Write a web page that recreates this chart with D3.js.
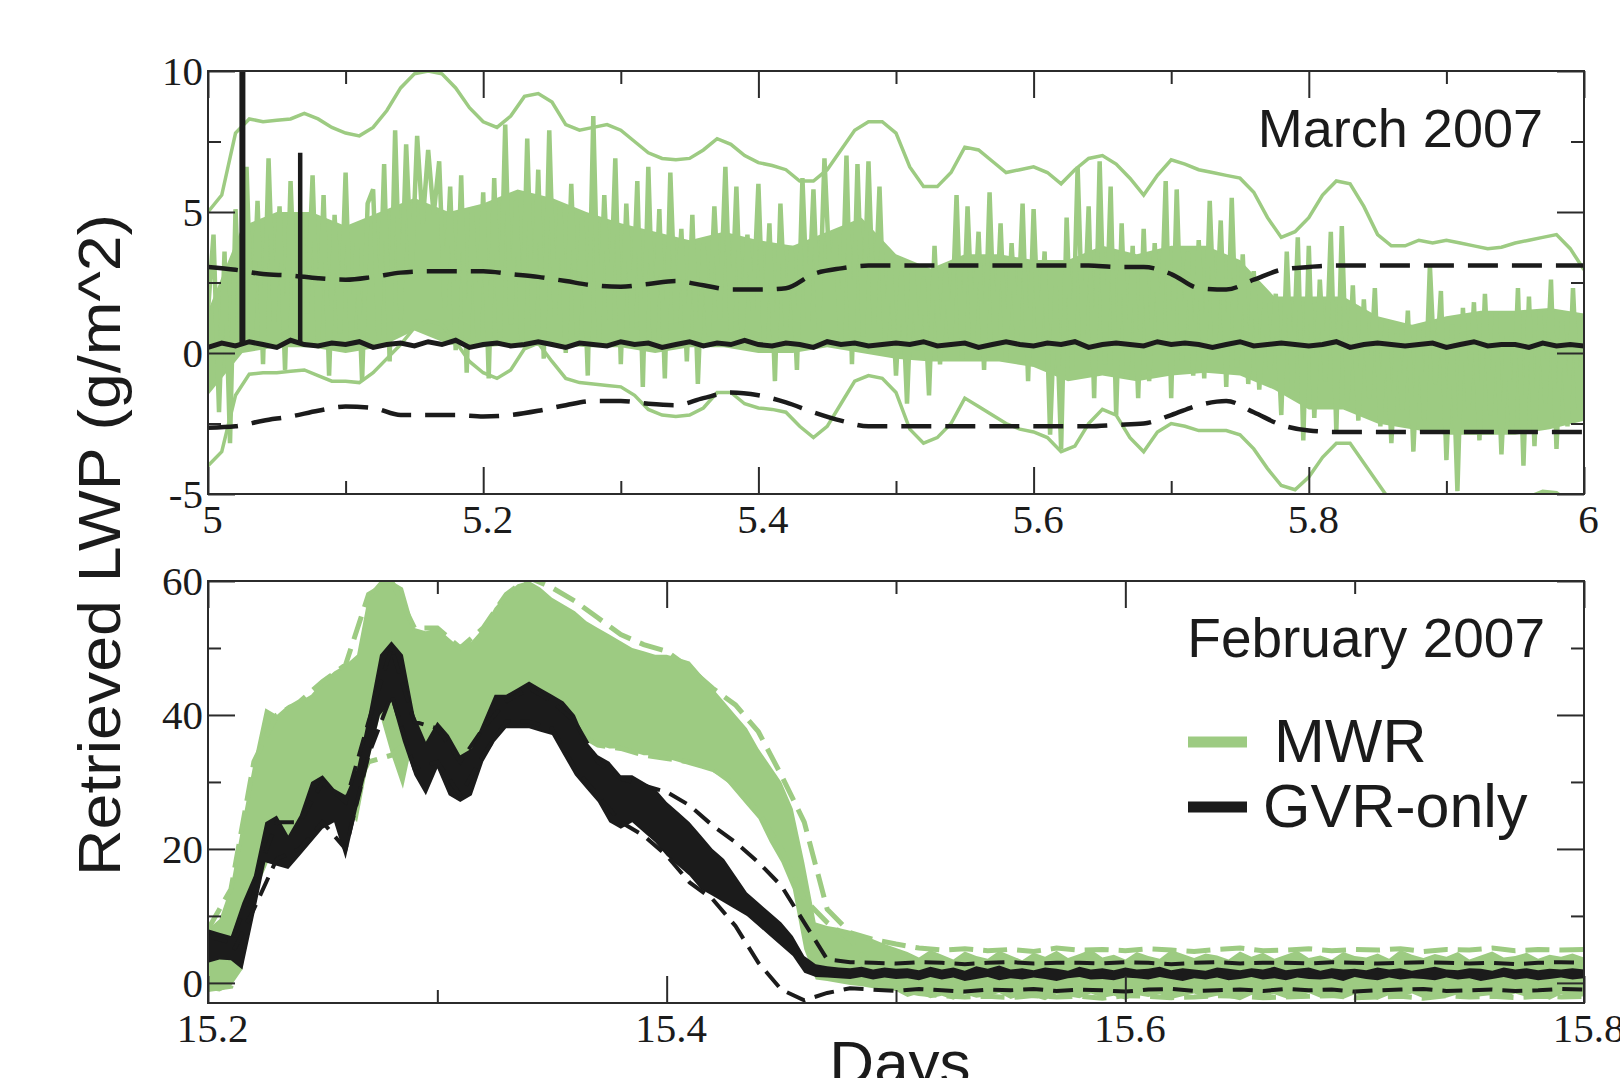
<!DOCTYPE html>
<html>
<head>
<meta charset="utf-8">
<script src="https://d3js.org/d3.v7.min.js"></script>
<style>
  body { margin: 0; background: #fff; }
  svg { display: block; }
</style>
</head>
<body>
<script>
// ---------- data ----------
// March 2007 panel: days 5 .. 6, LWP in g/m^2
const marchRange = [5, 6];

// MWR retrieval, raw noisy trace (equal steps over the day)
const marchMwr = [
  1.5, 4.2, -2.1, 3.6, -3.2, 5.1, 0.2, 6.6, 0.6, 5.4,
  -0.4, 6.9, 1.1, 5.2, -0.6, 6.1, 0.9, 4.7, 1.4, 6.3,
  0.3, 5.6, -0.8, 4.9, 0.7, 6.4, 0.2, 3.9, -1.0, 5.3,
  5.8, 0.4, 6.7, -0.3, 7.9, 1.2, 7.4, 2.8, 7.7, 4.6,
  7.2, 4.9, 6.8, 1.6, 5.9, 0.1, 6.3, -0.7, 5.0, 0.5,
  5.7, -0.9, 6.2, 0.4, 8.1, 1.0, 5.4, 0.2, 7.6, 0.8,
  6.5, -0.2, 7.9, 1.3, 5.2, 0.0, 6.0, 0.6, 4.8, -0.8,
  8.4, 0.5, 5.6, 1.1, 6.9, -0.4, 5.3, 0.9, 6.1, -1.2,
  6.6, 0.2, 5.1, -0.9, 6.4, 1.0, 4.4, -0.3, 4.9, -1.1,
  3.9, 0.6, 5.2, 1.2, 6.6, 0.8, 5.9, 0.3, 4.2, 1.5,
  6.0, 0.4, 4.6, -1.0, 5.3, 0.9, 3.8, -0.6, 6.2, 1.1,
  5.8, 0.8, 6.9, 2.6, 4.1, 0.2, 7.0, -0.4, 6.7, 0.6,
  6.8, 1.0, 5.9, 0.4, 3.2, -0.8, 2.9, -1.8, 3.1, 0.1,
  2.7, -1.5, 3.8, -0.4, 2.9, 0.3, 5.6, -0.2, 5.2, 0.5,
  4.3, -0.6, 5.7, 0.1, 4.6, -0.3, 3.9, 0.4, 5.3, -1.0,
  5.1, 0.2, 3.6, -2.9, 2.4, -3.4, 4.8, -0.7, 6.6, 0.3,
  5.2, -1.6, 6.8, -0.4, 5.9, -2.2, 4.6, -0.9, 3.8, -1.6,
  4.4, -1.0, 3.9, 0.2, 6.1, -1.6, 5.8, -0.3, 3.6, -0.8,
  4.0, -0.9, 5.4, 0.3, 4.7, -1.2, 5.5, -0.5, 3.5, -1.1,
  2.9, -1.3, 1.8, -0.6, 2.1, -2.2, 3.6, -1.4, 4.1, -3.1,
  3.8, -2.3, 2.6, -1.0, 4.3, -2.8, 4.5, -1.7, 2.4, -2.4,
  1.9, -1.6, 2.3, -2.6, 1.2, -3.2, 0.7, -2.0, 1.5, -3.5,
  0.9, -2.4, 3.1, -1.1, 2.2, -3.8, 1.0, -4.9, 1.6, -2.0,
  1.8, -3.1, 2.1, -2.2, 1.4, -3.6, 0.6, -2.7, 2.3, -4.0,
  2.0, -3.3, 1.5, -1.8, 2.6, -3.4, 1.2, -2.6, 2.3, -2.0,
  0.8
];
// dense part of the MWR trace (where it is solid green)
const marchMwrCoreHi = [1.5, 4.5, 5.0, 5.0, 4.5, 5.0, 5.5, 5.0, 5.3, 5.8, 5.5, 5.0, 4.6, 4.3, 4.0, 4.3, 4.0, 3.8, 4.3, 4.8,
  3.5, 3.0, 3.5, 3.5, 3.3, 3.3, 3.8, 3.5, 3.8, 3.8, 3.3, 2.0, 2.0, 2.0, 1.3, 1.0, 1.3, 1.5, 1.5, 1.6, 1.4];
const marchMwrCoreLo = [-1.5, 0.0, 0.2, 0.2, 0.0, 0.2, 0.8, 0.3, 0.2, 0.3, 0.3, 0.2, 0.2, 0.0, 0.2, 0.2, 0.0, 0.0, 0.2, 0.0,
  -0.2, -0.3, -0.3, -0.3, -0.5, -1.0, -0.8, -1.0, -0.8, -0.7, -0.8, -1.3, -2.0, -2.0, -2.5, -2.7, -2.9, -2.9, -2.9, -2.7, -2.4];
// MWR uncertainty envelope (solid green lines)
const marchMwrUpper = [
  5.0, 5.6, 7.8, 8.3, 8.2, 8.25, 8.3, 8.5, 8.3, 8.0,
  7.8, 7.7, 8.0, 8.6, 9.4, 9.9, 10.0, 9.9, 9.4, 8.7,
  8.2, 8.0, 8.4, 9.1, 9.2, 8.9, 8.1, 7.9, 8.0, 8.1,
  7.9, 7.5, 7.1, 6.9, 6.85, 6.9, 7.2, 7.6, 7.4, 7.0,
  6.75, 6.65, 6.5, 6.1, 6.1, 6.5, 7.2, 7.9, 8.2, 8.2,
  7.8, 6.6, 5.9, 5.9, 6.4, 7.3, 7.2, 6.8, 6.4, 6.5,
  6.6, 6.4, 6.0, 6.5, 6.9, 7.0, 6.7, 6.2, 5.6, 6.3,
  6.85, 6.7, 6.5, 6.4, 6.3, 6.2, 5.7, 4.8, 4.1, 4.3,
  4.8, 5.6, 6.1, 6.0, 5.2, 4.2, 3.8, 3.8, 4.0, 3.9,
  4.0, 3.9, 3.8, 3.7, 3.75, 3.9, 4.0, 4.1, 4.2, 3.7,
  2.95
];
const marchMwrLower = [
  -4.0, -3.5, -1.5, -0.75, -0.7, -0.7, -0.65, -0.6, -0.8, -1.0,
  -1.0, -1.05, -0.7, -0.2, 0.3, 0.9, 1.15, 1.0, 0.4, -0.3,
  -0.7, -0.9, -0.6, 0.15, 0.35, -0.3, -0.9, -1.05, -1.1, -1.15,
  -1.2, -1.5, -2.0, -2.2, -2.25, -2.2, -1.95, -1.4, -1.4, -1.8,
  -1.95, -2.0, -2.1, -2.6, -3.0, -2.6, -1.8, -1.0, -0.8, -0.9,
  -1.4, -2.7, -3.2, -3.0, -2.5, -1.6, -1.9, -2.2, -2.5, -2.7,
  -2.8, -3.0, -3.5, -3.3, -2.5, -2.0, -2.2, -3.0, -3.5, -2.8,
  -2.5, -2.6, -2.75, -2.75, -2.75, -2.9, -3.4, -4.1, -4.7, -4.85,
  -4.4, -3.7, -3.2, -3.2, -3.9, -4.6, -5.3, -5.5, -5.1, -5.2,
  -5.4, -5.5, -5.4, -5.3, -5.5, -5.3, -5.1, -4.9, -4.95, -5.3,
  -5.6
];
// GVR-only retrieval (black) and its uncertainty (black dashed)
const marchGvr = [
  0.2, 0.35, 0.25, 0.4, 0.3, 0.2, 0.45, 0.3, 0.25, 0.35,
  0.3, 0.4, 0.2, 0.3, 0.35, 0.25, 0.4, 0.3, 0.45, 0.2,
  0.3, 0.35, 0.25, 0.3, 0.4, 0.3, 0.2, 0.35, 0.3, 0.25,
  0.4, 0.3, 0.35, 0.2, 0.3, 0.4, 0.25, 0.35, 0.3, 0.45,
  0.3, 0.25, 0.35, 0.3, 0.2, 0.4, 0.3, 0.35, 0.25, 0.3,
  0.35, 0.3, 0.4, 0.25, 0.3, 0.35, 0.2, 0.3, 0.4, 0.3,
  0.25, 0.35, 0.3, 0.4, 0.2, 0.3, 0.35, 0.3, 0.25, 0.4,
  0.3, 0.35, 0.3, 0.2, 0.3, 0.4, 0.25, 0.3, 0.35, 0.3,
  0.25, 0.3, 0.4, 0.2, 0.3, 0.35, 0.3, 0.25, 0.3, 0.35,
  0.2, 0.3, 0.4, 0.25, 0.3, 0.3, 0.2, 0.35, 0.25, 0.3,
  0.25
];
const marchSpikeDays = [5.025, 5.067];
const marchSpikeTops = [10, 7.1];
const marchGvrUpper = [
  3.05, 2.95, 2.8, 2.75, 2.65, 2.6, 2.7, 2.85, 2.9, 2.9,
  2.9, 2.8, 2.7, 2.55, 2.4, 2.35, 2.45, 2.55, 2.4, 2.25,
  2.25, 2.3, 2.8, 3.0, 3.1, 3.1, 3.1, 3.1, 3.1, 3.1,
  3.1, 3.1, 3.1, 3.05, 3.05, 2.8, 2.3, 2.25, 2.6, 2.95,
  3.05, 3.1, 3.1, 3.1, 3.1, 3.1, 3.1, 3.1, 3.1, 3.1,
  3.1
];
const marchGvrLower = [
  -2.65, -2.6, -2.4, -2.25, -2.05, -1.9, -1.95, -2.2, -2.2, -2.2,
  -2.25, -2.2, -2.05, -1.85, -1.7, -1.7, -1.8, -1.85, -1.6, -1.4,
  -1.5, -1.75, -2.1, -2.4, -2.6, -2.6, -2.6, -2.6, -2.6, -2.6,
  -2.6, -2.6, -2.6, -2.55, -2.5, -2.2, -1.85, -1.7, -2.1, -2.55,
  -2.75, -2.8, -2.8, -2.8, -2.8, -2.8, -2.8, -2.8, -2.8, -2.8,
  -2.8
];

// February 2007 panel: days 15.2 .. 15.8
const febRange = [15.2, 15.8];
// spread of the noisy MWR trace (top / bottom of the green band)
const febMwrHi = [
  8, 9.5, 14.5, 24, 33, 41, 40, 41.5, 42, 43,
  45, 46.5, 47.5, 49, 58, 60, 60, 59, 53, 52.5,
  53, 51.5, 50, 51, 53, 56, 58, 59.5, 60, 59,
  57.5, 56.5, 55.5, 54, 53, 52, 51, 50, 49.5, 49,
  49, 48.5, 48, 46, 44, 42, 40, 38, 35, 32.5,
  30, 26, 18, 9, 8.5, 8.2, 7.8, 7, 6.5, 5.8,
  5.2,
  4.6, 3.8, 4.9, 4.2, 3.5, 4.7, 4.0, 3.6, 4.8, 4.1,
  3.4, 4.5, 3.9, 4.8, 3.7, 4.3, 5.0, 3.8, 4.2, 3.5,
  4.6, 4.0, 3.6, 4.9, 4.3, 3.7, 4.4, 4.1, 3.5, 4.7,
  3.9, 4.5, 3.6, 4.2, 4.8, 3.7, 4.1, 3.5, 4.6, 4.0,
  3.8, 4.4, 3.6, 4.9, 4.2, 3.7, 4.3, 3.9, 4.6, 3.5,
  4.1, 4.7, 3.8, 4.0, 4.5, 3.6, 4.2, 3.9, 4.4, 3.8
];
const febMwrLo = [
  -1, -1.3, -0.5, 2, 14, 22, 22, 21, 22, 25,
  27, 27, 26, 24, 33, 40, 34, 29, 37, 33,
  35, 33, 31, 31, 36, 40, 42, 43, 42, 41,
  40, 38.5, 37.5, 36.5, 35.5, 35, 35, 34.5, 34, 34,
  33.5, 33, 32.5, 32, 31.5, 30.5, 28.5, 26.5, 24.5, 21,
  18, 14, 5, 0.5, 0.3, 0, -0.3, -0.5, -0.8, -1,
  -1.2,
  -2.1, -1.6, -2.3, -1.9, -2.5, -1.7, -2.2, -2.0, -1.5, -2.4,
  -1.8, -2.1, -2.6, -1.7, -2.0, -2.3, -1.6, -2.2, -1.9, -2.5,
  -1.8, -2.1, -1.7, -2.4, -2.0, -1.6, -2.3, -1.9, -2.2, -2.6,
  -1.8, -2.0, -1.7, -2.3, -2.1, -1.5, -2.2, -1.9, -2.4, -1.7,
  -2.0, -2.5, -1.8, -2.1, -1.6, -2.3, -1.9, -2.2, -1.7, -2.4,
  -2.0, -1.8, -2.3, -1.6, -2.1, -1.9, -2.5, -1.7, -2.2, -2.0
];
// spread of the noisy GVR-only trace (black band)
const febGvrHi = [
  8, 7.5, 7, 12, 16, 24, 25, 22, 25, 30,
  31, 29, 28, 32, 40, 49, 51, 49, 40, 36,
  39, 37, 34, 35, 39, 43, 43, 44, 45, 44,
  43, 42, 40, 36, 34, 33, 31, 31, 30, 29,
  27, 25.5, 24, 22, 20, 18.5, 16, 13.5, 12, 10.5,
  9, 7, 4, 2.8, 2.5, 2.3, 2.2, 2.4, 2.0, 2.3,
  2.1,
  2.2, 1.9, 2.4, 2.0, 2.3, 1.8, 2.5, 2.1, 2.6, 2.0,
  2.2, 1.9, 2.3, 2.1, 1.8, 2.4, 2.0, 2.2, 1.9, 2.3,
  2.0, 2.1, 2.4, 1.9, 2.2, 2.0, 1.8, 2.3, 2.1, 1.9,
  2.2, 2.0, 2.4, 1.9, 2.1, 2.3, 1.8, 2.2, 2.0, 2.1,
  1.9, 2.3, 2.0, 2.2, 1.8, 2.1, 2.4, 2.0, 1.9, 2.2,
  2.1, 1.8, 2.3, 2.0, 2.2, 1.9, 2.1, 2.0, 2.2, 2.0
];
const febGvrLo = [
  3, 3.5, 3.4, 2, 10, 18, 17.5, 17, 19, 21,
  23, 24, 18.5, 26, 33, 40, 42, 36, 31, 28,
  32, 28, 27, 28, 33, 36, 38, 38, 38, 37.5,
  37, 34, 31, 29, 27, 24, 23, 24, 22.5, 21,
  19, 17.5, 16, 14, 13, 12, 11, 10, 8.5, 7,
  5.5, 4, 1.5, 0.9, 0.8, 0.7, 0.6, 0.9, 0.5, 0.8,
  0.6,
  0.7, 0.4, 0.9, 0.5, 0.8, 0.3, 0.6, 0.9, 0.4, 0.7,
  0.5, 0.8, 0.6, 0.3, 0.7, 0.9, 0.5, 0.6, 0.4, 0.8,
  0.7, 0.5, 0.9, 0.6, 0.3, 0.7, 0.5, 0.8, 0.4, 0.6,
  0.9, 0.5, 0.7, 0.4, 0.8, 0.6, 0.5, 0.7, 0.3, 0.9,
  0.6, 0.4, 0.8, 0.5, 0.7, 0.6, 0.4, 0.8, 0.5, 0.7,
  0.3, 0.6, 0.9, 0.5, 0.7, 0.4, 0.6, 0.8, 0.5, 0.7
];
// uncertainty bounds (dashed), every 0.01 day
const febMwrUp = [
  8, 14, 33, 40, 42, 45, 47.5, 58, 60, 53,
  53, 50, 53, 58, 60.5, 59, 57, 54.5, 52, 50.5,
  49.5, 47, 44, 41.5, 37.5, 31, 24, 11, 7.5,
  6.5, 5.8, 5.2, 4.9, 5.1, 4.8, 5.0, 4.7, 5.2, 4.9,
  5.0, 4.8, 5.1, 4.9, 4.7, 5.0, 5.2, 4.8, 4.9, 5.1,
  4.8, 5.0, 4.9, 5.1, 4.7, 5.0, 4.9, 5.2, 4.8, 5.0,
  4.9, 5.0
];
const febMwrDown = [
  -1, -0.5, 14, 22, 22, 27, 26, 33, 34, 37,
  35, 31, 36, 42, 42, 40, 37.5, 35.5, 35, 34,
  33.5, 33, 32, 29.5, 25.5, 20, 12.5, 9, 6.5,
  2.0, -0.8, -1.6, -1.9, -2.1, -2.0, -2.2, -1.9, -2.1, -2.0,
  -2.3, -1.9, -2.0, -2.2, -2.1, -1.9, -2.0, -2.2, -2.1, -2.0,
  -1.9, -2.2, -2.1, -2.0, -2.3, -1.9, -2.1, -2.0, -2.2, -2.0,
  -2.1, -2.0
];
const febGvrUp = [
  7, 6, 15, 24, 24, 30, 27, 39, 50, 39,
  38, 33, 38, 42, 44, 42, 39, 33, 30.5, 29.5,
  28.5, 26.5, 23.5, 21, 18, 14.5, 9, 3.5, 3.1,
  3.0, 2.9, 3.1, 3.0, 2.8, 3.0, 3.1, 2.9, 3.0, 3.0,
  2.9, 3.1, 3.0, 2.8, 3.0, 3.1, 2.9, 3.0, 3.0, 2.9,
  3.1, 3.0, 2.9, 3.0, 3.1, 3.0, 2.9, 3.0, 2.8, 3.0,
  3.1, 3.0
];
const febGvrDown = [
  4, 4, 11, 18.5, 20, 24, 20, 34, 43, 32,
  33, 28, 34, 39, 39, 38, 32, 28, 24, 22,
  19, 15, 12.5, 8.5, 3, -1, -2.6, -1.5, -0.8,
  -1.0, -1.2, -0.9, -1.1, -1.3, -1.0, -1.1, -0.9, -1.2, -1.0,
  -1.1, -1.3, -1.0, -0.9, -1.2, -1.1, -1.0, -1.2, -0.9, -1.1,
  -1.0, -1.3, -1.1, -1.0, -0.9, -1.2, -1.1, -1.0, -1.2, -1.1,
  -0.9, -1.0
];

const seriesNames = ["MWR", "GVR-only"];

// ---------- layout ----------
const W = 1620, H = 1078;
const left = 208, right = 1584;
const GREEN = "#9dcb82", INK = "#1b1b1b", FRAME = "#2b2b2b";
const serif = "'Liberation Serif', 'Times New Roman', serif";
const sans = "'Liberation Sans', Arial, Helvetica, sans-serif";

const svg = d3.select("body").append("svg")
    .attr("width", W)
    .attr("height", H)
svg.append("rect").attr("width", W).attr("height", H).attr("fill", "#fff")

// pair each reading with its day, readings are equally spaced
function spread(vals, range) {
    const step = (range[1] - range[0]) / (vals.length - 1)
    return vals.map((v, i) => ({day: range[0] + i * step, v: v}))
}
function band(hi, lo, range) {
    const step = (range[1] - range[0]) / (hi.length - 1)
    return hi.map((h, i) => ({day: range[0] + i * step, hi: h, lo: lo[i]}))
}

function makePanel(id, top, bottom, xDom, yDom) {
    const x = d3.scaleLinear().domain(xDom).range([left, right])
    const y = d3.scaleLinear().domain(yDom).range([bottom, top])
    svg.append("clipPath").attr("id", id)
        .append("rect")
        .attr("x", left).attr("y", top)
        .attr("width", right - left).attr("height", bottom - top)
    const plot = svg.append("g").attr("clip-path", `url(#${id})`)
    return {x, y, plot, top, bottom}
}

function drawAxes(p, xMajor, xMinor, yMajor, yMinor) {
    const {x, y, top, bottom} = p
    const fmt = d => String(d)
    const specs = [
        [d3.axisBottom(x).tickValues(xMajor).tickSize(-27).tickPadding(10).tickFormat(fmt), `translate(0,${bottom})`, "x"],
        [d3.axisBottom(x).tickValues(xMinor).tickSize(-13).tickFormat(""), `translate(0,${bottom})`],
        [d3.axisTop(x).tickValues(xMajor).tickSize(-27).tickFormat(""), `translate(0,${top})`],
        [d3.axisTop(x).tickValues(xMinor).tickSize(-13).tickFormat(""), `translate(0,${top})`],
        [d3.axisLeft(y).tickValues(yMajor).tickSize(-27).tickPadding(5).tickFormat(fmt), `translate(${left},0)`, "y"],
        [d3.axisLeft(y).tickValues(yMinor).tickSize(-13).tickFormat(""), `translate(${left},0)`],
        [d3.axisRight(y).tickValues(yMajor).tickSize(-27).tickFormat(""), `translate(${right},0)`],
        [d3.axisRight(y).tickValues(yMinor).tickSize(-13).tickFormat(""), `translate(${right},0)`]
    ]
    specs.forEach(([axis, tr, kind]) => {
        const g = svg.append("g").attr("transform", tr).call(axis)
        g.select(".domain").remove()
        g.selectAll("line").attr("stroke", FRAME).attr("stroke-width", 2)
        g.selectAll("text")
            .attr("font-family", serif)
            .attr("font-size", 41)
            .attr("fill", INK)
        if (kind === "x") g.selectAll("text").attr("dx", 4)
    })
    svg.append("rect")
        .attr("x", left).attr("y", top)
        .attr("width", right - left).attr("height", bottom - top)
        .attr("fill", "none")
        .attr("stroke", FRAME)
        .attr("stroke-width", 2)
}

const lineOf = p => d3.line().x(d => p.x(d.day)).y(d => p.y(d.v))
const areaOf = p => d3.area().x(d => p.x(d.day)).y0(d => p.y(d.lo)).y1(d => p.y(d.hi))

// ---------- March 2007 ----------
const mar = makePanel("clipMar", 71, 494, marchRange, [-5, 10])

mar.plot.append("path")
    .datum(band(marchMwrCoreHi, marchMwrCoreLo, marchRange))
    .attr("d", areaOf(mar))
    .attr("fill", GREEN)

mar.plot.append("path")
    .datum(spread(marchMwr, marchRange))
    .attr("d", lineOf(mar))
    .attr("fill", "none")
    .attr("stroke", GREEN)
    .attr("stroke-width", 4.5)
    .attr("stroke-linejoin", "bevel")

;[marchMwrUpper, marchMwrLower].forEach(vals => {
    mar.plot.append("path")
        .datum(spread(vals, marchRange))
        .attr("d", lineOf(mar))
        .attr("fill", "none")
        .attr("stroke", GREEN)
        .attr("stroke-width", 3.5)
})

;[marchGvrUpper, marchGvrLower].forEach(vals => {
    mar.plot.append("path")
        .datum(spread(vals, marchRange))
        .attr("d", lineOf(mar).curve(d3.curveMonotoneX))
        .attr("fill", "none")
        .attr("stroke", INK)
        .attr("stroke-width", 4.5)
        .attr("stroke-dasharray", "30,14")
})

mar.plot.append("path")
    .datum(spread(marchGvr, marchRange))
    .attr("d", lineOf(mar))
    .attr("fill", "none")
    .attr("stroke", INK)
    .attr("stroke-width", 5)

mar.plot.selectAll(".spike")
    .data(marchSpikeDays.map((d, i) => ({day: d, top: marchSpikeTops[i]})))
    .enter()
    .append("line")
    .attr("class", "spike")
    .attr("x1", d => mar.x(d.day)).attr("x2", d => mar.x(d.day))
    .attr("y1", mar.y(0.3)).attr("y2", d => mar.y(d.top))
    .attr("stroke", INK)
    .attr("stroke-width", (d, i) => i === 0 ? 6 : 4.5)

drawAxes(mar, [5, 5.2, 5.4, 5.6, 5.8, 6], [5.1, 5.3, 5.5, 5.7, 5.9], [-5, 0, 5, 10], [-2.5, 2.5, 7.5])

svg.append("text")
    .attr("x", 1543).attr("y", 147)
    .attr("text-anchor", "end")
    .attr("font-family", sans).attr("font-size", 54)
    .attr("fill", INK)
    .text("March 2007")

// ---------- February 2007 ----------
const feb = makePanel("clipFeb", 581, 1003, febRange, [-3, 60])

feb.plot.append("path")
    .datum(band(febMwrHi, febMwrLo, febRange))
    .attr("d", areaOf(feb))
    .attr("fill", GREEN)

;[febMwrUp, febMwrDown].forEach(vals => {
    feb.plot.append("path")
        .datum(spread(vals, febRange))
        .attr("d", lineOf(feb))
        .attr("fill", "none")
        .attr("stroke", GREEN)
        .attr("stroke-width", 5)
        .attr("stroke-dasharray", "24,10")
})

feb.plot.append("path")
    .datum(band(febGvrHi, febGvrLo, febRange))
    .attr("d", areaOf(feb))
    .attr("fill", INK)

;[febGvrUp, febGvrDown].forEach(vals => {
    feb.plot.append("path")
        .datum(spread(vals, febRange))
        .attr("d", lineOf(feb))
        .attr("fill", "none")
        .attr("stroke", INK)
        .attr("stroke-width", 4)
        .attr("stroke-dasharray", "20,10")
})

drawAxes(feb, [15.2, 15.4, 15.6, 15.8], [15.3, 15.5, 15.7], [0, 20, 40, 60], [10, 30, 50])

svg.append("text")
    .attr("x", 1545).attr("y", 657)
    .attr("text-anchor", "end")
    .attr("font-family", sans).attr("font-size", 55)
    .attr("fill", INK)
    .text("February 2007")

// legend
const legend = svg.append("g")
legend.selectAll("line")
    .data(seriesNames)
    .enter()
    .append("line")
    .attr("x1", 1188).attr("x2", 1247)
    .attr("y1", (d, i) => 742 + i * 65).attr("y2", (d, i) => 742 + i * 65)
    .attr("stroke", (d, i) => i === 0 ? GREEN : INK)
    .attr("stroke-width", 11)
legend.selectAll("text")
    .data(seriesNames)
    .enter()
    .append("text")
    .attr("x", (d, i) => i === 0 ? 1274 : 1263)
    .attr("y", (d, i) => 762 + i * 65)
    .attr("font-family", sans).attr("font-size", 61)
    .attr("fill", INK)
    .text(d => d)

// axis titles
svg.append("text")
    .attr("transform", "translate(120,545) rotate(-90)")
    .attr("text-anchor", "middle")
    .attr("font-family", sans).attr("font-size", 60)
    .attr("textLength", 662)
    .attr("lengthAdjust", "spacingAndGlyphs")
    .attr("fill", INK)
    .text("Retrieved LWP (g/m^2)")

svg.append("text")
    .attr("x", 900).attr("y", 1084)
    .attr("text-anchor", "middle")
    .attr("font-family", sans).attr("font-size", 62)
    .attr("fill", INK)
    .text("Days")
</script>
</body>
</html>
